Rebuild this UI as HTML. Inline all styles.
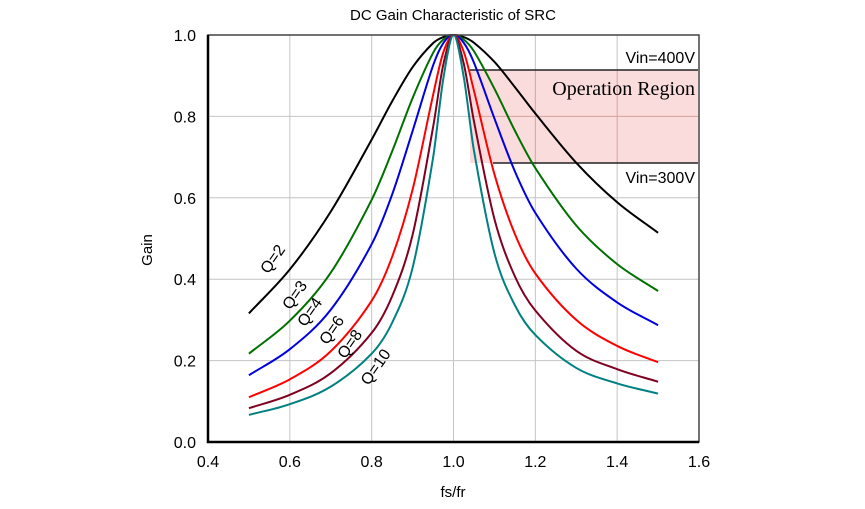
<!DOCTYPE html>
<html><head><meta charset="utf-8"><style>
body{margin:0;background:#fff}
svg{display:block;font-family:"Liberation Sans",sans-serif}
</style></head><body>
<svg id="c" width="865" height="509" viewBox="0 0 865 509">
<text x="453" y="20" font-size="15" text-anchor="middle">DC Gain Characteristic of SRC</text>
<g id="grid"></g>
<rect x="470" y="70" width="228" height="93" fill="#fbdcdc"/>
<g id="grid2"></g>
<line x1="470" y1="70" x2="698" y2="70" stroke="#222" stroke-width="1.5"/>
<line x1="493" y1="163" x2="698" y2="163" stroke="#222" stroke-width="1.5"/>
<text x="695" y="63" font-size="16" text-anchor="end">Vin=400V</text>
<text x="695" y="95" font-size="20" text-anchor="end" font-family="Liberation Serif,serif">Operation Region</text>
<text x="695" y="183" font-size="16" text-anchor="end">Vin=300V</text>
<g id="series"></g>
<g id="axes"></g>
<text transform="translate(152,250) rotate(-90)" font-size="15" text-anchor="middle">Gain</text>
<text x="453" y="497" font-size="15" text-anchor="middle">fs/fr</text>
</svg>
<script>
const xs = [0.5,0.6,0.7,0.8,0.85,0.9,0.95,0.975,1.0,1.025,1.05,1.1,1.15,1.2,1.3,1.4,1.5];
const q2 = [0.316,0.424,0.566,0.743,0.837,0.921,0.980,0.995,1,0.995,0.981,0.934,0.872,0.807,0.686,0.589,0.514];
const q3 = [0.217,0.298,0.416,0.595,0.714,0.845,0.956,0.989,1,0.989,0.960,0.868,0.765,0.673,0.532,0.437,0.371];
const q4 = [0.164,0.228,0.325,0.486,0.608,0.764,0.925,0.980,1,0.981,0.932,0.795,0.665,0.563,0.426,0.343,0.287];
const q6 = [0.110,0.154,0.223,0.347,0.455,0.620,0.852,0.957,1,0.959,0.863,0.658,0.511,0.414,0.300,0.236,0.196];
const q8 = [0.083,0.116,0.169,0.268,0.358,0.509,0.773,0.927,1,0.930,0.788,0.548,0.407,0.323,0.224,0.179,0.148];
const q10 = [0.0665,0.093,0.136,0.217,0.293,0.428,0.698,0.892,1,0.897,0.716,0.464,0.336,0.263,0.182,0.144,0.119];
const seriesNames = ["Q=2","Q=3","Q=4","Q=6","Q=8","Q=10"];
const seriesColors = ["#000000","#007000","#0000e0","#ff0000","#800020","#008080"];
const xTicks = [0.4,0.6,0.8,1.0,1.2,1.4,1.6];
const yTicks = [0.0,0.2,0.4,0.6,0.8,1.0];
const allSeries = [q2,q3,q4,q6,q8,q10];

const X0=208,X1=699,Y0=442,Y1=35;
const sx=v=>X0+(v-0.4)/(1.6-0.4)*(X1-X0);
const sy=v=>Y0-(v-0)/(1.0)*(Y0-Y1);
const NS="http://www.w3.org/2000/svg";
function mk(t,a,p){const e=document.createElementNS(NS,t);for(const k in a)e.setAttribute(k,a[k]);p.appendChild(e);return e;}
const grid=document.getElementById('grid'),axes=document.getElementById('axes'),ser=document.getElementById('series');
xTicks.forEach(t=>{
  const l=mk('line',{x1:sx(t),x2:sx(t),y1:Y1,y2:Y0,stroke:'#c4c4c4','stroke-width':1},grid);
  
  
  const tx=mk('text',{x:sx(t),y:Y0+25,'font-size':16,'text-anchor':'middle'},axes);
  tx.textContent=t.toFixed(1);
  
  
});
yTicks.forEach(t=>{
  const l=mk('line',{x1:X0,x2:X1,y1:sy(t),y2:sy(t),stroke:'#c4c4c4','stroke-width':1},grid);
  
  
  const tx=mk('text',{x:X0-12,y:sy(t)+6,'font-size':16,'text-anchor':'end'},axes);
  tx.textContent=t.toFixed(1);
  
  
});
const g2=document.getElementById('grid2');
[1.2,1.4].forEach(t=>{const l=mk('line',{x1:sx(t),x2:sx(t),y1:70,y2:163,stroke:'#d9a0a0','stroke-width':1},g2);
  
  });
{const l=mk('line',{x1:470,x2:698,y1:sy(0.8),y2:sy(0.8),stroke:'#d9a0a0','stroke-width':1},g2);
  
  }
const fr=mk('rect',{x:X0,y:Y1,width:X1-X0,height:Y0-Y1,fill:'none',stroke:'#444','stroke-width':1.5},axes);


const la=mk('path',{d:`M${X0},${Y1}V${Y0}H${X1}`,fill:'none',stroke:'#000','stroke-width':2.5},axes);


function pathFor(ys){
  const n=xs.length,m=[];
  for(let i=0;i<n;i++){
    const a=Math.max(0,i-1),b=Math.min(n-1,i+1);
    m.push((ys[b]-ys[a])/(xs[b]-xs[a]));
  }
  let d=`M${sx(xs[0])},${sy(ys[0])}`;
  for(let i=0;i<n-1;i++){
    const h=xs[i+1]-xs[i];
    const c1x=xs[i]+h/3,c1y=ys[i]+m[i]*h/3,c2x=xs[i+1]-h/3,c2y=ys[i+1]-m[i+1]*h/3;
    d+=`C${sx(c1x)},${sy(c1y)} ${sx(c2x)},${sy(c2y)} ${sx(xs[i+1])},${sy(ys[i+1])}`;
  }
  return d;
}
allSeries.forEach((ys,i)=>{
  const p=mk('path',{d:pathFor(ys),fill:'none',stroke:seriesColors[i],'stroke-width':2},ser);
  
  
});
const labelPos=[[277,262],[299,298],[314,315],[336,333],[354,347],[380,370]];
seriesNames.forEach((n,i)=>{
  const t=mk('text',{transform:`translate(${labelPos[i][0]},${labelPos[i][1]}) rotate(-55)`,'font-size':16,'text-anchor':'middle'},ser);
  t.textContent=n;
  
  
});
</script>
</body></html>
